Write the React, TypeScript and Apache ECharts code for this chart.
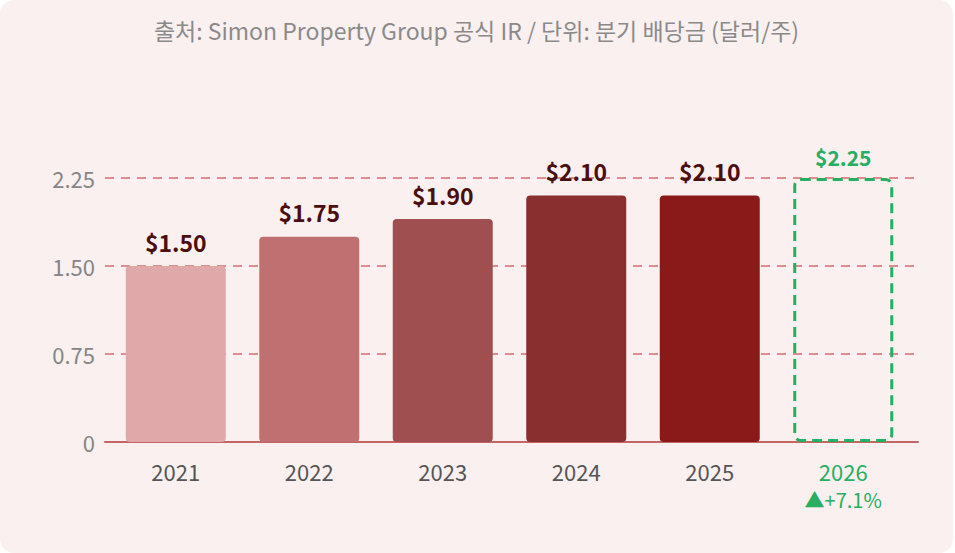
import * as echarts from "echarts";
import React, { useEffect, useRef } from "react";

const years = ["2021", "2022", "2023", "2024", "2025", "2026"];
const dividends = [1.5, 1.75, 1.9, 2.1, 2.1, 2.25];
const barColors = ["#e0a8a8", "#c07070", "#a04f50", "#8a2f30", "#8a1a1a"];
const growthLabel = "▲+7.1%";
const titleText = "출처: Simon Property Group 공식 IR / 단위: 분기 배당금 (달러/주)";

const FONT = "'Noto Sans CJK KR', 'Noto Sans', sans-serif";
const GREEN = "#27ae60";

const App: React.FC = () => {
  const chartRef = useRef<HTMLDivElement | null>(null);

  useEffect(() => {
    if (!chartRef.current) return;
    const chart = echarts.init(chartRef.current, undefined, { renderer: "svg" });

    const lastIndex = years.length - 1;

    const option: echarts.EChartsOption = {
      animation: false,
      backgroundColor: "transparent",
      textStyle: { fontFamily: FONT },
      title: {
        text: titleText,
        left: "center",
        top: 13,
        textStyle: { fontFamily: FONT, fontSize: 23, fontWeight: "normal", color: "#8a8a8a" },
      },
      grid: [
        { left: 105, right: 35, top: 178, bottom: 111 },
        { left: 109, right: 43, top: 178, bottom: 111 },
      ],
      xAxis: [
        {
          type: "value",
          gridIndex: 0,
          min: 0,
          max: 1,
          axisLine: { show: true, onZero: false, lineStyle: { color: "#c46464", width: 2 } },
          axisTick: { show: false },
          axisLabel: { show: false },
          splitLine: { show: false },
        },
        {
          type: "category",
          gridIndex: 1,
          data: years,
          axisLine: { show: false },
          axisTick: { show: false },
          axisLabel: {
            margin: 16,
            formatter: (value: string, index: number) =>
              index === lastIndex ? `{g|${value}}\n{s|${growthLabel}}` : `{n|${value}}`,
            rich: {
              n: { fontFamily: FONT, fontSize: 22, color: "#555555", lineHeight: 26 },
              g: { fontFamily: FONT, fontSize: 22, color: GREEN, lineHeight: 26 },
              s: { fontFamily: FONT, fontSize: 20, color: GREEN, lineHeight: 30 },
            },
          },
        },
      ],
      yAxis: [
        {
          type: "value",
          gridIndex: 0,
          min: 0,
          max: 2.25,
          interval: 0.75,
          axisLine: { show: false },
          axisTick: { show: false },
          axisLabel: {
            margin: 10,
            fontFamily: FONT,
            fontSize: 22,
            color: "#858585",
            formatter: (v: number) => (v === 0 ? "0" : v.toFixed(2)),
          },
          splitLine: {
            show: true,
            lineStyle: { color: "#de8c8c", width: 2, type: [9, 7] },
          },
        },
        {
          type: "value",
          gridIndex: 1,
          min: 0,
          max: 2.25,
          show: false,
          splitLine: { show: false },
        },
      ],
      series: [
        {
          type: "bar",
          xAxisIndex: 1,
          yAxisIndex: 1,
          barWidth: 100,
          data: dividends.map((v, i) =>
            i === lastIndex
              ? {
                  value: v,
                  itemStyle: {
                    color: "rgba(0,0,0,0)",
                    borderColor: GREEN,
                    borderWidth: 3,
                    borderType: [10, 6],
                    borderRadius: 6,
                  },
                  label: { color: GREEN, fontSize: 21, distance: 11 },
                }
              : {
                  value: v,
                  itemStyle: { color: barColors[i], borderRadius: 4 },
                }
          ),
          label: {
            show: true,
            position: "top",
            distance: 13,
            fontFamily: FONT,
            fontSize: 23,
            fontWeight: "bold",
            color: "#4a0e0e",
            formatter: (p: any) => `$${Number(p.value).toFixed(2)}`,
          },
        },
      ],
    };

    chart.setOption(option);

    const handleResize = () => chart.resize();
    window.addEventListener("resize", handleResize);
    return () => {
      window.removeEventListener("resize", handleResize);
      chart.dispose();
    };
  }, []);

  return (
    <div style={{ position: "fixed", left: 0, top: 0, width: 955, height: 553, background: "#ffffff" }}>
      <div
        style={{
          width: 953,
          height: 553,
          background: "#faf0f0",
          borderRadius: 14,
          overflow: "hidden",
        }}
      >
        <div ref={chartRef} style={{ width: 953, height: 553 }} />
      </div>
    </div>
  );
};

export default App;
